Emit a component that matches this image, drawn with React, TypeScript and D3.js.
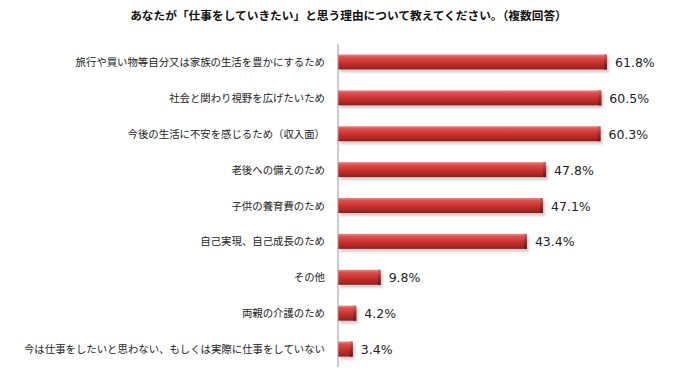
import React from "react";
import * as d3 from "d3";

const categories = [
  "旅行や買い物等自分又は家族の生活を豊かにするため",
  "社会と関わり視野を広げたいため",
  "今後の生活に不安を感じるため（収入面）",
  "老後への備えのため",
  "子供の養育費のため",
  "自己実現、自己成長のため",
  "その他",
  "両親の介護のため",
  "今は仕事をしたいと思わない、もしくは実際に仕事をしていない",
];
const values = [61.8, 60.5, 60.3, 47.8, 47.1, 43.4, 9.8, 4.2, 3.4];
const title = "あなたが「仕事をしていきたい」と思う理由について教えてください。（複数回答）";

export default function App() {
  const W = 700, H = 376;
  const x0 = 338;
  const x = d3.scaleLinear().domain([0, 100]).range([x0, x0 + 435.3]);
  const y = d3.scaleBand<string>().domain(categories).range([44, 367]);
  const bh = 15;
  return (
    <svg width={W} height={H} style={{ position: "absolute", left: 0, top: 0, background: "#fff" }}>
      <defs>
        <linearGradient id="barG" x1="0" y1="0" x2="0" y2="1">
          <stop offset="0" stopColor="#e98a88" />
          <stop offset="0.18" stopColor="#df4f4c" />
          <stop offset="0.55" stopColor="#c9302d" />
          <stop offset="0.85" stopColor="#a82523" />
          <stop offset="1" stopColor="#8a1d1b" />
        </linearGradient>
        <linearGradient id="capG" x1="0" y1="0" x2="0" y2="1">
          <stop offset="0" stopColor="#d06a68" />
          <stop offset="0.5" stopColor="#a82826" />
          <stop offset="1" stopColor="#701513" />
        </linearGradient>
        <filter id="sh" x="-5%" y="-20%" width="115%" height="160%">
          <feGaussianBlur stdDeviation="1.2" />
        </filter>
      </defs>
      <text x={348.5} y={20} textAnchor="middle" fontFamily="'Noto Sans CJK JP'" fontWeight="bold" fontSize={11.7} fill="#111">
        {title}
      </text>
      {categories.map((c, i) => {
        const cy = (y(c) as number) + y.bandwidth() / 2;
        const xe = x(values[i]);
        const top = cy - bh / 2;
        return (
          <g key={c}>
            <text x={325} y={cy + 4} textAnchor="end" fontFamily="'Noto Sans CJK JP'" fontSize={10.4} fill="#222">
              {c}
            </text>
            <rect x={x0 + 2} y={top + 3} width={xe - x0} height={bh} fill="#999" opacity={0.45} filter="url(#sh)" />
            <rect x={x0} y={top} width={xe - x0} height={bh} fill="url(#barG)" />
            <rect x={xe - 3} y={top} width={3} height={bh} fill="url(#capG)" />
            <text x={xe + 8} y={cy + 5} fontFamily="'DejaVu Sans'" fontSize={12.5} fill="#222">
              {values[i].toFixed(1)}%
            </text>
          </g>
        );
      })}
      <line x1={x0} x2={x0} y1={44} y2={367} stroke="#999" strokeWidth={1} />
    </svg>
  );
}
